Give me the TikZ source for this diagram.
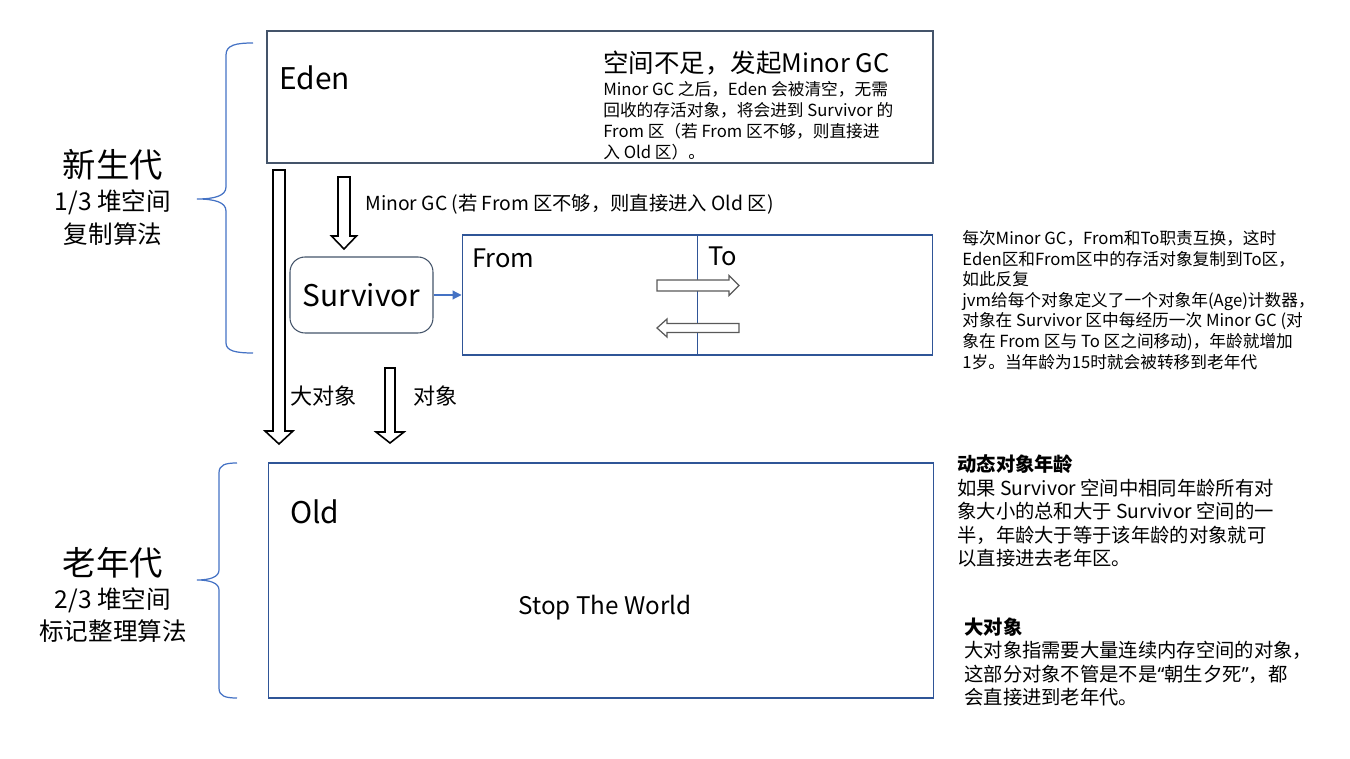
\documentclass[tikz,border=0pt]{standalone}
\usepackage{fontspec}
\setmainfont{Noto Sans CJK SC}
\newfontfamily\latinq{Noto Sans}
\usepackage{tikz}
\usetikzlibrary{arrows.meta,calc}
\definecolor{cslate}{HTML}{44546A}
\definecolor{cframe}{HTML}{2F5597}
\definecolor{cbrace}{HTML}{4472C4}
\definecolor{cswap}{HTML}{595959}
\newcommand{\fs}[2]{\fontsize{#1}{#2}\selectfont}
% hollow block arrow: [style]{tail}{tip}{shaft half}{head half}{head length}
\newcommand{\blockarrow}[6][]{%
  \coordinate (ba) at ($(#3)!#6!(#2)$);
  \draw[hollow,#1] ($(#2)!#4!90:(#3)$) -- ($(ba)!#4!90:(#3)$) -- ($(ba)!#5!90:(#3)$) -- (#3)
    -- ($(ba)!#5!-90:(#3)$) -- ($(ba)!#4!-90:(#3)$) -- ($(#2)!#4!-90:(#3)$) -- cycle;}
\tikzset{
  region/.style={draw=cframe, line width=0.6pt, inner sep=0pt},
  edenbox/.style={region, draw=cslate, line width=0.7pt},
  survbox/.style={region, draw=cslate, rounded corners=0.3cm, font=\fs{17}{20}},
  lbl/.style={inner sep=0pt, anchor=west},
  biglbl/.style={lbl, font=\fs{17}{20}},
  midlbl/.style={lbl, font=\fs{14.5}{17}},
  gen/.style={inner sep=0pt, font=\fs{19}{22}},
  gensub/.style={inner sep=0pt, font=\fs{14}{16}},
  note/.style={lbl, align=left, font=\fs{9.5}{11.9}},
  side/.style={lbl, align=left, font=\fs{11}{13.4}},
  hollow/.style={draw=black, fill=white, line width=0.9pt, line join=miter},
  swap/.style={draw=cswap, line width=0.7pt},
  bracel/.style={draw=cbrace, line width=0.7pt},
  link/.style={-{Triangle[length=5pt,width=5pt]}, draw=cbrace, line width=0.6pt},
}
\begin{document}
\begin{tikzpicture}[x=0.02cm, y=-0.02cm]
\useasboundingbox (0,0) rectangle (1350,759);

% young generation
\node[edenbox, minimum width=13.32cm, minimum height=2.64cm] (eden) at (600,97) {};
\node[biglbl] (edenlbl) at (279,78) {Eden};
\node[midlbl] (full) at (603,63) {空间不足，发起Minor GC};
\node[note] (edennote) at (603,121) {Minor GC 之后，Eden 会被清空，无需\\回收的存活对象，将会进到 Survivor 的\\From 区（若 From 区不够，则直接进\\入 Old 区）。};

\node[survbox, minimum width=2.86cm, minimum height=1.52cm] (surv) at (361.5,295) {Survivor};
\node[region, minimum width=9.42cm, minimum height=2.4cm] (fromto) at (697.5,295) {};
\draw[region] (fromto.north) -- (fromto.south);
\node[midlbl] (fromlbl) at (472,258) {From};
\node[midlbl] (tolbl) at (708,256) {To};
\draw[link] (surv) -- (fromto);

\coordinate (swaptail) at (657,285.5);
\coordinate (swaptip) at (739,285.5);
\blockarrow[swap]{swaptail}{swaptip}{0.11cm}{0.2cm}{0.2cm}
\coordinate (backtail) at (739,328);
\coordinate (backtip) at (657,328);
\blockarrow[swap]{backtail}{backtip}{0.09cm}{0.18cm}{0.2cm}

\coordinate (gctail) at (344,177);
\coordinate (gctip) at (344,249);
\blockarrow{gctail}{gctip}{0.12cm}{0.25cm}{0.26cm}
\node[lbl, font=\fs{11}{13}] (gclbl) at (365,204) {Minor GC (若 From 区不够，则直接进入 Old 区)};

% old generation
\node[region, minimum width=13.32cm, minimum height=4.7cm] (old) at (601,580.5) {};
\node[biglbl] (oldlbl) at (290,512) {Old};
\node[inner sep=0pt, font=\fs{13.8}{16}] (stw) at (605,608) {Stop The World};

\coordinate (bigtail) at (279,170);
\coordinate (bigtip) at (279,444);
\blockarrow{bigtail}{bigtip}{0.12cm}{0.28cm}{0.26cm}
\node[lbl, font=\fs{12.6}{15}] (biglbl) at (290,396) {大对象};
\coordinate (objtail) at (390,368);
\coordinate (objtip) at (390,443);
\blockarrow{objtail}{objtip}{0.1cm}{0.28cm}{0.22cm}
\node[lbl, font=\fs{12.6}{15}] (objlbl) at (413,396) {对象};

% braces and generation names
\draw[bracel] (253,43) .. controls (236,43) and (226,45) .. (226,55) -- (226,187)
  .. controls (226,196) and (214,199) .. (197,199) .. controls (214,199) and (226,202) .. (226,211)
  -- (226,343) .. controls (226,351) and (236,353) .. (253,353);
\draw[bracel] (237,463) .. controls (225,463) and (219,465) .. (219,473) -- (219,570)
  .. controls (219,577) and (210,580) .. (197,580) .. controls (210,580) and (219,583) .. (219,590)
  -- (219,688) .. controls (219,696) and (225,698) .. (237,698);
\node[gen] (young) at (113,165) {新生代};
\node[gensub] (youngsize) at (113,202) {1/3 堆空间};
\node[gensub] (youngalg) at (113,234) {复制算法};
\node[gen] (tenured) at (113,563) {老年代};
\node[gensub] (tenuredsize) at (113,600) {2/3 堆空间};
\node[gensub] (tenuredalg) at (113,631) {标记整理算法};

% side notes
\node[note, font=\fs{9.5}{11.7}] (swapnote) at (962,300) {每次Minor GC，From和To职责互换，这时\\Eden区和From区中的存活对象复制到To区，\\如此反复\\jvm给每个对象定义了一个对象年(Age)计数器，\\对象在 Survivor 区中每经历一次 Minor GC (对\\象在 From 区与 To 区之间移动)，年龄就增加\\1岁。当年龄为15时就会被转移到老年代};
\node[side] (agenote) at (957,511) {\textbf{动态对象年龄}\\如果 Survivor 空间中相同年龄所有对\\象大小的总和大于 Survivor 空间的一\\半，年龄大于等于该年龄的对象就可\\以直接进去老年区。};
\node[side] (bignote) at (964,662) {\textbf{大对象}\\大对象指需要大量连续内存空间的对象，\\这部分对象不管是不是{\latinq “}朝生夕死{\latinq ”}，都\\会直接进到老年代。};
\end{tikzpicture}
\end{document}
